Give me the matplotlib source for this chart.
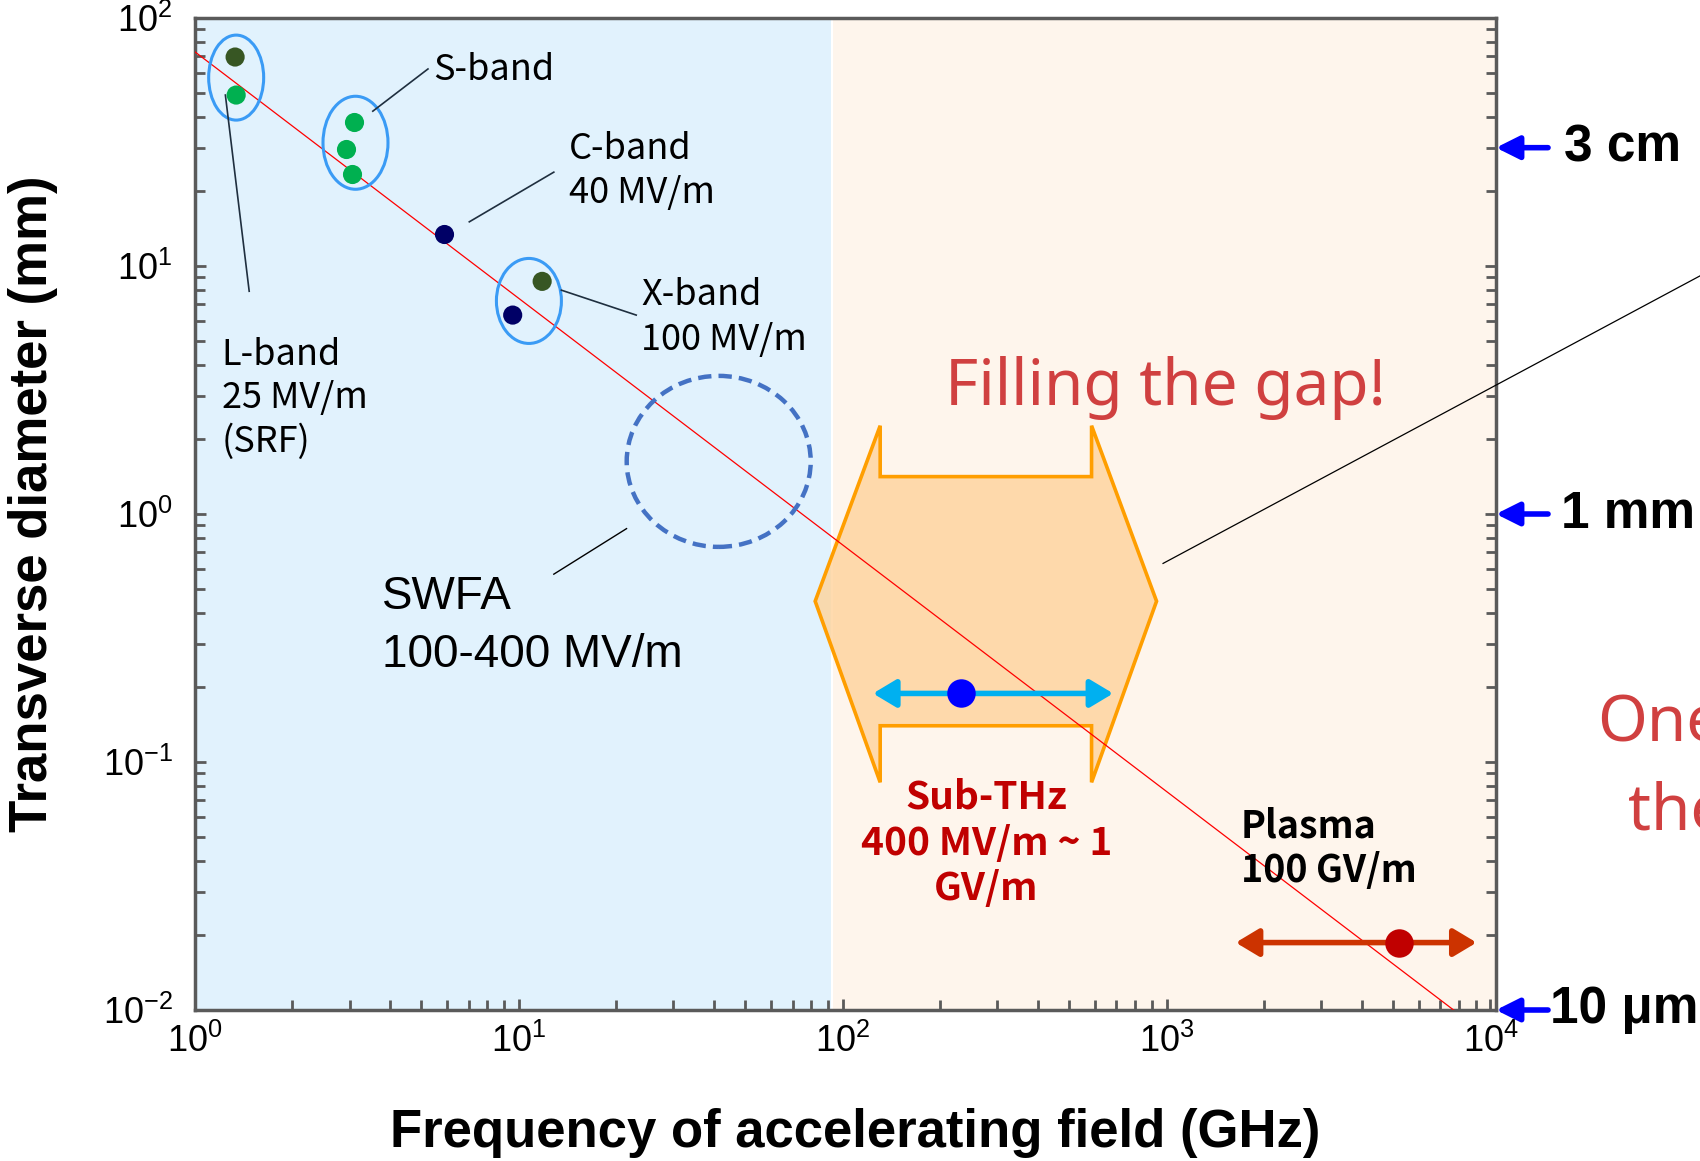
import matplotlib
matplotlib.use("Agg")
import matplotlib.pyplot as plt
import matplotlib.transforms as mtransforms
from matplotlib.patches import Ellipse, Polygon

plt.rcParams['mathtext.fontset'] = 'custom'
plt.rcParams['mathtext.rm'] = 'Liberation Sans'
plt.rcParams['mathtext.default'] = 'regular'

# frequency in GHz, transverse diameter in mm
lband_freq = [1.33, 1.34]
lband_diam = [69.6, 48.9]
lband_colors = ['#375623', '#00B050']
sband_freq = [3.10, 2.92, 3.06]
sband_diam = [38.0, 29.6, 23.5]
cband_freq = [5.89]
cband_diam = [13.4]
xband_freq = [11.8, 9.57]
xband_diam = [8.67, 6.34]
xband_colors = ['#375623', '#000066']

trend_freq = [1.0, 8100.0]
trend_diam = [73.0, 0.0095]

subthz_freq = [231]
subthz_diam = [0.189]
subthz_range = [124, 684]
plasma_freq = [5200]
plasma_diam = [0.0187]
plasma_range = [1635, 9060]

swfa_center = (41.4, 1.63)

# "filling the gap" outline
gap_freq = [82.2, 130.5, 130.5, 586.5, 586.5, 931, 586.5, 586.5, 130.5, 130.5]
gap_diam = [0.445, 2.27, 1.415, 1.415, 2.27, 0.445, 0.0828, 0.140, 0.140, 0.0828]

size_marks = [30, 1, 0.01]
size_labels = ['3 cm', '1 mm', '10 μm']

x_ticks = [1, 10, 100, 1000, 10000]
y_ticks = [0.01, 0.1, 1, 10, 100]

band_font = ['Noto Sans CJK KR', 'DejaVu Sans']

fig = plt.figure(figsize=(17, 11.61), dpi=100)
ax = fig.add_axes([195 / 1700, 1 - 1010 / 1161, 1301 / 1700, 992 / 1161])
ax.set_xscale('log')
ax.set_yscale('log')
ax.set_xlim(1, 1.04e4)
ax.set_ylim(0.01, 100)

# background regions
ax.axvspan(1, 92, color='#E1F2FD', zorder=0, lw=0)
ax.axvspan(93.5, 1.04e4, color='#FEF5EC', zorder=0, lw=0)

# trend line
ax.plot(trend_freq, trend_diam, color='red', lw=0.9, zorder=3)

# gap shape
gap = Polygon(list(zip(gap_freq, gap_diam)), closed=True, facecolor='#FFD39B',
              alpha=0.8, edgecolor='none', zorder=1)
ax.add_patch(gap)
gap_edge = Polygon(list(zip(gap_freq, gap_diam)), closed=True, facecolor='none',
                   edgecolor='#FF9E00', lw=2.6, zorder=2)
ax.add_patch(gap_edge)

# data points
ax.scatter(lband_freq, lband_diam, s=190, c=lband_colors, zorder=5, lw=0)
ax.scatter(sband_freq, sband_diam, s=190, c='#00B050', zorder=5, lw=0)
ax.scatter(cband_freq, cband_diam, s=190, c='#000066', zorder=5, lw=0)
ax.scatter(xband_freq, xband_diam, s=190, c=xband_colors, zorder=5, lw=0)


def ellipse_at(x, y, w, h, **kw):
    # ellipse sized in inches, centred on a data point
    tr = fig.dpi_scale_trans + mtransforms.ScaledTranslation(x, y, ax.transData)
    e = Ellipse((0, 0), w, h, transform=tr, fill=False, **kw)
    ax.add_patch(e)


ellipse_at(1.34, 57.5, 0.55, 0.85, edgecolor='#3A9BF5', lw=2.2, zorder=4)
ellipse_at(3.13, 31.4, 0.65, 0.93, edgecolor='#3A9BF5', lw=2.2, zorder=4)
ellipse_at(10.74, 7.23, 0.65, 0.85, edgecolor='#3A9BF5', lw=2.2, zorder=4)
ellipse_at(swfa_center[0], swfa_center[1], 1.84, 1.71, edgecolor='#4472C4',
           lw=3.2, ls=(0, (3, 1.6)), zorder=4)

# range arrows
two_way = '<|-|>,head_length=0.5,head_width=0.3'
ax.annotate('', xy=(subthz_range[0], subthz_diam[0]), xytext=(subthz_range[1], subthz_diam[0]),
            arrowprops=dict(arrowstyle=two_way, color='#00B0F0', lw=4, mutation_scale=28,
                            shrinkA=0, shrinkB=0), zorder=5)
ax.scatter(subthz_freq, subthz_diam, s=420, c='#0000FF', zorder=6, lw=0)
ax.annotate('', xy=(plasma_range[0], plasma_diam[0]), xytext=(plasma_range[1], plasma_diam[0]),
            arrowprops=dict(arrowstyle=two_way, color='#CC3300', lw=4, mutation_scale=28,
                            shrinkA=0, shrinkB=0), zorder=5)
ax.scatter(plasma_freq, plasma_diam, s=420, c='#C00000', zorder=6, lw=0)

# leader lines
lead = dict(color='#1F2F3F', lw=1.2, zorder=4)
ax.plot([1.241, 1.470], [48.9, 7.91], **lead)
ax.plot([3.54, 5.24], [42.1, 62.3], **lead)
ax.plot([7.03, 12.82], [15.07, 23.9], **lead)
ax.plot([13.53, 23.03], [7.99, 6.34], **lead)
ax.plot([12.82, 21.5], [0.572, 0.873], color='black', lw=1.0, zorder=4)
ax.plot([975, 44260], [0.632, 9.11], color='black', lw=0.9, zorder=4, clip_on=False)

# labels
ax.text(5.45, 61.7, 'S-band', family=band_font, fontsize=26, va='center')
ax.text(14.3, 24.2, 'C-band\n40 MV/m', family=band_font, fontsize=26, va='center', linespacing=1.3)
ax.text(23.9, 6.21, 'X-band\n100 MV/m', family=band_font, fontsize=26, va='center', linespacing=1.3)
ax.text(1.21, 2.92, 'L-band\n25 MV/m\n(SRF)', family=band_font, fontsize=26, va='center',
        linespacing=1.27)
ax.text(3.79, 0.353, 'SWFA\n100-400 MV/m', family='Liberation Sans', fontsize=33, va='center',
        linespacing=1.4)
ax.text(990, 3.23, 'Filling the gap!', family='Noto Sans', fontsize=46, color='#D04040',
        ha='center', va='center')
ax.text(277.7, 0.0471, 'Sub-THz\n400 MV/m ~ 1\nGV/m', family=band_font, fontsize=28,
        fontweight='bold', color='#C00000', ha='center', va='center', linespacing=1.22)
ax.text(1698, 0.0448, 'Plasma\n100 GV/m', family=band_font, fontsize=27, fontweight='bold',
        va='center', linespacing=1.18)

# size markers on the right
blend = mtransforms.blended_transform_factory(ax.transAxes, ax.transData)
text_x = [1.0525, 1.05, 1.0417]
for yv, lab, tx in zip(size_marks, size_labels, text_x):
    ax.annotate('', xy=(1.0, yv), xycoords=blend, xytext=(1.04, yv), textcoords=blend,
                arrowprops=dict(arrowstyle='-|>,head_length=0.5,head_width=0.25',
                                color='#0000FF', lw=4, mutation_scale=28,
                                shrinkA=0, shrinkB=0), annotation_clip=False)
    ax.text(tx, yv, lab, transform=blend, family='Liberation Sans', fontsize=37,
            fontweight='bold', va='center', clip_on=False)

fig.text(1597 / 1700, 1 - 725 / 1161, 'One', family='Noto Sans', fontsize=46, color='#D04040',
         va='center')
fig.text(1628 / 1700, 1 - 812 / 1161, 'the', family='Noto Sans', fontsize=46, color='#D04040',
         va='center')

# axes styling
ax.set_xticks(x_ticks)
ax.set_yticks(y_ticks)
for sp in ax.spines.values():
    sp.set_color('#5A5A5A')
    sp.set_linewidth(2.5)
ax.tick_params(which='both', direction='in', top=False, right=True, color='#5A5A5A',
               width=2)
ax.tick_params(which='major', length=8, labelsize=26)
ax.tick_params(which='minor', length=7)
ax.tick_params(axis='x', which='major', pad=10)
ax.tick_params(axis='y', which='major', pad=16)
for lab in ax.get_xticklabels() + ax.get_yticklabels():
    lab.set_family('Liberation Sans')

fig.text(855 / 1700, 1 - 1133 / 1161, 'Frequency of accelerating field (GHz)',
         family='Liberation Sans', fontsize=38, fontweight='bold', ha='center', va='center')
fig.text(33 / 1700, 1 - 504 / 1161, 'Transverse diameter (mm)', family='Liberation Sans',
         fontsize=38, fontweight='bold', rotation=90, ha='center', va='center')

fig.savefig('out.png', dpi=100)
